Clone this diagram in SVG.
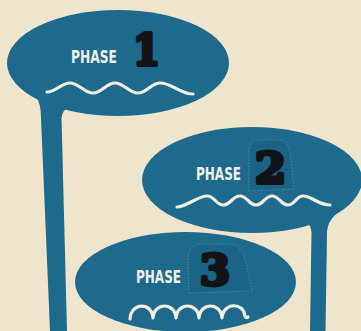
<svg xmlns="http://www.w3.org/2000/svg" width="361" height="331" viewBox="0 0 361 331">
<style>
.blob{fill:#1d6a8d}
.lbl{font-family:"DejaVu Sans Condensed","DejaVu Sans","Liberation Sans",sans-serif;font-weight:bold;fill:#f1efe6}
.num{font-family:"DejaVu Serif","Liberation Serif",serif;font-weight:bold;fill:#121418;stroke:#121418;stroke-width:4;stroke-linejoin:round}
.wave{fill:none;stroke:#f1eee2;stroke-width:3.2;stroke-linecap:round;stroke-linejoin:round}
.patch{fill:#1a6485;stroke:#8fb3bf;stroke-width:0.8;stroke-dasharray:1.5 1.5;stroke-opacity:0.6}
</style>
<rect width="361" height="331" fill="#efe5cc"/>
<g id="connectors">
  <path class="blob" d="M36,96 Q41,104 41,118 L50,331 L67,331 L61.5,118 Q62,110 70,106 L50,100 Z"/>
  <path class="blob" d="M304,222 Q311,224 311.5,232 L310,331 L325.5,331 L327,232 Q327.5,222 336,214 L320,214 Z"/>
</g>
<g id="phase1">
  <ellipse class="blob" cx="118" cy="63" rx="111" ry="53"/>
  <text class="lbl" x="71" y="63" font-size="18" textLength="46" lengthAdjust="spacingAndGlyphs">PHASE</text>
  <text class="num" x="133" y="65" font-size="42" textLength="27" lengthAdjust="spacingAndGlyphs">1</text>
  <path class="wave" d="M47,92 C56,92 61,83 70,83 C79,83 84,93 93,93 C102,93 106,83 115,83 C124,83 129,93 138,93 C147,93 151,83 160,83 C172,83 180,94 193,94"/>
</g>
<g id="phase2">
  <ellipse class="blob" cx="252" cy="180" rx="110" ry="53"/>
  <path class="patch" d="M249,191 L249,150 Q249,140 258,140 L281,140 Q288,140 290,152 L294,189 Z"/>
  <text class="lbl" x="196" y="180" font-size="17" textLength="45" lengthAdjust="spacingAndGlyphs">PHASE</text>
  <text class="num" x="255" y="183" font-size="42" textLength="31" lengthAdjust="spacingAndGlyphs">2</text>
  <path class="wave" d="M177,207 C186,207 198,196 207,196 C215,196 216,205 223,205 C231,205 232,196 240,196 C247,196 249,205 256,205 C263,205 265,196 272,196 C279,196 281,205 288,205 C295,205 296,196 303,196 C312,196 318,205 330,205"/>
</g>
<g id="phase3">
  <ellipse class="blob" cx="185.5" cy="282" rx="110.5" ry="50"/>
  <path class="patch" d="M189,293 L188,258 Q189,245 200,244 L231,244 Q241,245 246,262 L252,291 Z"/>
  <text class="lbl" x="136" y="283" font-size="17" textLength="45" lengthAdjust="spacingAndGlyphs">PHASE</text>
  <text class="num" x="200" y="285" font-size="42" textLength="30" lengthAdjust="spacingAndGlyphs">3</text>
  <path class="wave" d="M130,319 C131,302 152,302 153,318 C154,302 175,302 176,318 C177,302 198,302 199,318 C200,302 221,302 222,318 C223,302 244,302 245,316 C246,318 247,318 248,317"/>
</g>
</svg>
